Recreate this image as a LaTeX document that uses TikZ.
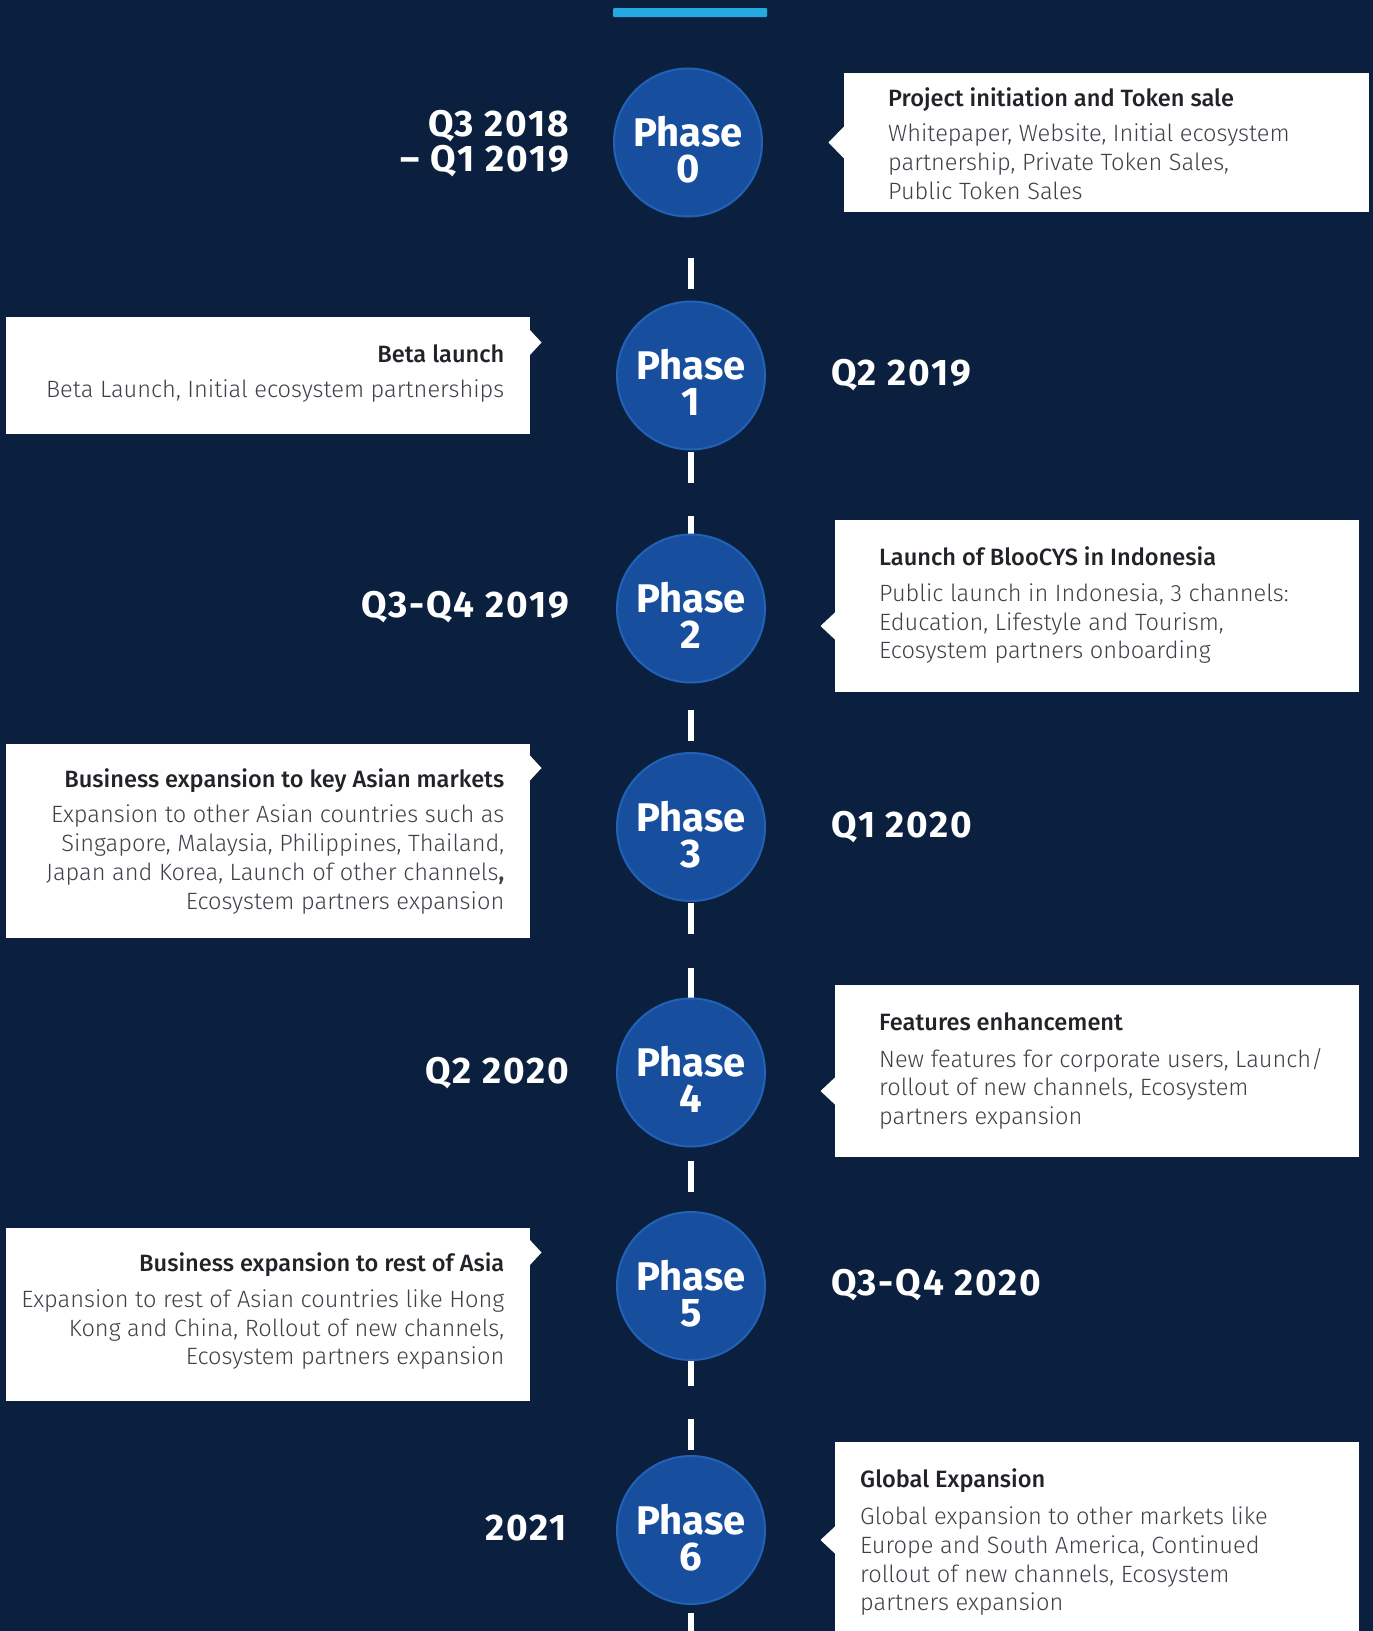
\documentclass[tikz,border=0pt]{standalone}
\usepackage{fontspec}
\setmainfont{Fira Sans}
\newfontfamily\lightf{Fira Sans Light}
\newfontfamily\medf{Fira Sans Medium}
\newfontfamily\datef{Fira Sans}[LetterSpace=5]
\definecolor{bg}{RGB}{11,32,62}
\definecolor{circ}{RGB}{24,78,158}
\definecolor{circedge}{RGB}{34,98,182}
\definecolor{bar}{RGB}{38,168,224}
\definecolor{ttlc}{RGB}{33,35,40}
\definecolor{bodyc}{RGB}{62,66,72}
\begin{document}
\begin{tikzpicture}[x=1pt,y=-1pt,
  phase/.style={circle, fill=circ, draw=circedge, line width=2pt,
    minimum size=148pt, inner sep=0pt},
  phtxt/.style={text=white, inner sep=0pt, anchor=base,
    font=\bfseries\fontsize{40}{40}\selectfont},
  card/.style={fill=white, inner sep=0pt, rectangle},
  ttl/.style={font=\medf\fontsize{23.6}{29}\selectfont, text=ttlc, inner sep=0pt},
  bdy/.style={font=\lightf\fontsize{23.6}{29}\selectfont, text=bodyc, inner sep=0pt},
  datel/.style={font=\datef\bfseries\fontsize{37}{37}\selectfont, text=white, inner sep=0pt},
  ticks/.style={draw=white, line width=6pt, dash pattern=on 31pt off 33.5pt},
]
% canvas
\fill[bg] (0,0) rectangle (1373,1631);
\useasboundingbox (0,0) rectangle (1373,1631);

% top accent bar
\fill[bar, rounded corners=1pt] (613,8) rectangle (767,17);

% dashed spine behind the phase circles
\coordinate (spinetop) at (691,258);
\coordinate (spinebot) at (691,1640);
\draw[ticks] (spinetop) -- (spinebot);

% phase circles with their two-line labels
\node[phase] (p0) at (688,142.5) {};
\node[phase] (p1) at (691,375.5) {};
\node[phase] (p2) at (691,608.5) {};
\node[phase] (p3) at (691,827) {};
\node[phase] (p4) at (691,1072.5) {};
\node[phase] (p5) at (691,1286) {};
\node[phase] (p6) at (691,1530) {};
\foreach \i in {0,...,6}{
  \node[phtxt] (p\i a) at ([yshift=-4pt]p\i.center) {Phase};
  \node[phtxt] (p\i b) at ([yshift=-40pt]p\i.center) {\i};
}

% dates
\node[datel, anchor=base east] (d0a) at (569,136.7) {Q3 2018};
\node[datel, anchor=base east] (d0b) at (569,171.7) {– Q1 2019};
\node[datel, anchor=base west] (d1) at (831,385) {Q2 2019};
\node[datel, anchor=base east] (d2) at (569,617) {Q3-Q4 2019};
\node[datel, anchor=base west] (d3) at (831,837) {Q1 2020};
\node[datel, anchor=base east] (d4) at (569,1083) {Q2 2020};
\node[datel, anchor=base west] (d5) at (831,1295) {Q3-Q4 2020};
\node[datel, anchor=base east] (d6) at (567,1540.5) {2021};

% cards on the right (pointer on the left edge)
\node[card, minimum width=525pt, minimum height=138.5pt, anchor=north west] (b0) at (843.5,72.8) {};
\fill[white] (828.5,142.5) -- (844,126.5) -- (844,158.5) -- cycle;
\node[card, minimum width=523.5pt, minimum height=171.5pt, anchor=north west] (b2) at (835,520) {};
\fill[white] (820.5,626) -- (836,611.5) -- (836,640.5) -- cycle;
\node[card, minimum width=523.5pt, minimum height=171.5pt, anchor=north west] (b4) at (835,985) {};
\fill[white] (820.5,1091) -- (836,1076.5) -- (836,1105.5) -- cycle;
\node[card, minimum width=523.5pt, minimum height=200pt, anchor=north west] (b6) at (835,1442) {};
\fill[white] (820.5,1540) -- (836,1525.5) -- (836,1554.5) -- cycle;

% cards on the left (pointer on the right edge)
\node[card, minimum width=523.5pt, minimum height=116.5pt, anchor=north west] (b1) at (6,317) {};
\fill[white] (541.5,342.5) -- (529,329) -- (529,356) -- cycle;
\node[card, minimum width=523.5pt, minimum height=194.5pt, anchor=north west] (b3) at (6,743.7) {};
\fill[white] (541.5,768) -- (529,754.5) -- (529,781.5) -- cycle;
\node[card, minimum width=523.5pt, minimum height=173.5pt, anchor=north west] (b5) at (6,1227.5) {};
\fill[white] (541.5,1252.5) -- (529,1239) -- (529,1266) -- cycle;

% card texts
\node[ttl, anchor=base west] (t0) at (888,106) {Project initiation and Token sale};
\node[bdy, anchor=base west] (t0a) at (888,141.5) {Whitepaper, Website, Initial ecosystem};
\node[bdy, anchor=base west] (t0b) at (888,170.5) {partnership, Private Token Sales,};
\node[bdy, anchor=base west] (t0c) at (888,199.5) {Public Token Sales};

\node[ttl, anchor=base east] (t1) at (504.5,362) {Beta launch};
\node[bdy, anchor=base east] (t1a) at (504.5,397) {Beta Launch, Initial ecosystem partnerships};

\node[ttl, anchor=base west] (t2) at (879,565) {Launch of BlooCYS in Indonesia};
\node[bdy, anchor=base west] (t2a) at (879,601) {Public launch in Indonesia, 3 channels:};
\node[bdy, anchor=base west] (t2b) at (879,630) {Education, Lifestyle and Tourism,};
\node[bdy, anchor=base west] (t2c) at (879,658.5) {Ecosystem partners onboarding};

\node[ttl, anchor=base east] (t3) at (504.5,787.5) {Business expansion to key Asian markets};
\node[bdy, anchor=base east] (t3a) at (504.5,822) {Expansion to other Asian countries such as};
\node[bdy, anchor=base east] (t3b) at (504.5,851) {Singapore, Malaysia, Philippines, Thailand,};
\node[bdy, anchor=base east] (t3c) at (504.5,880) {Japan and Korea, Launch of other channels\textbf{,}};
\node[bdy, anchor=base east] (t3d) at (504.5,909) {Ecosystem partners expansion};

\node[ttl, anchor=base west] (t4) at (879,1030) {Features enhancement};
\node[bdy, anchor=base west] (t4a) at (879,1067) {New features for corporate users, Launch/};
\node[bdy, anchor=base west] (t4b) at (879,1095) {rollout of new channels, Ecosystem};
\node[bdy, anchor=base west] (t4c) at (879,1124.5) {partners expansion};

\node[ttl, anchor=base east] (t5) at (504.5,1271) {Business expansion to rest of Asia};
\node[bdy, anchor=base east] (t5a) at (504.5,1307.5) {Expansion to rest of Asian countries like Hong};
\node[bdy, anchor=base east] (t5b) at (504.5,1336.5) {Kong and China, Rollout of new channels,};
\node[bdy, anchor=base east] (t5c) at (504.5,1364.5) {Ecosystem partners expansion};

\node[ttl, anchor=base west] (t6) at (860,1487.5) {Global Expansion};
\node[bdy, anchor=base west] (t6a) at (860,1524) {Global expansion to other markets like};
\node[bdy, anchor=base west] (t6b) at (860,1553) {Europe and South America, Continued};
\node[bdy, anchor=base west] (t6c) at (860,1582) {rollout of new channels, Ecosystem};
\node[bdy, anchor=base west] (t6d) at (860,1610) {partners expansion};
\end{tikzpicture}
\end{document}
